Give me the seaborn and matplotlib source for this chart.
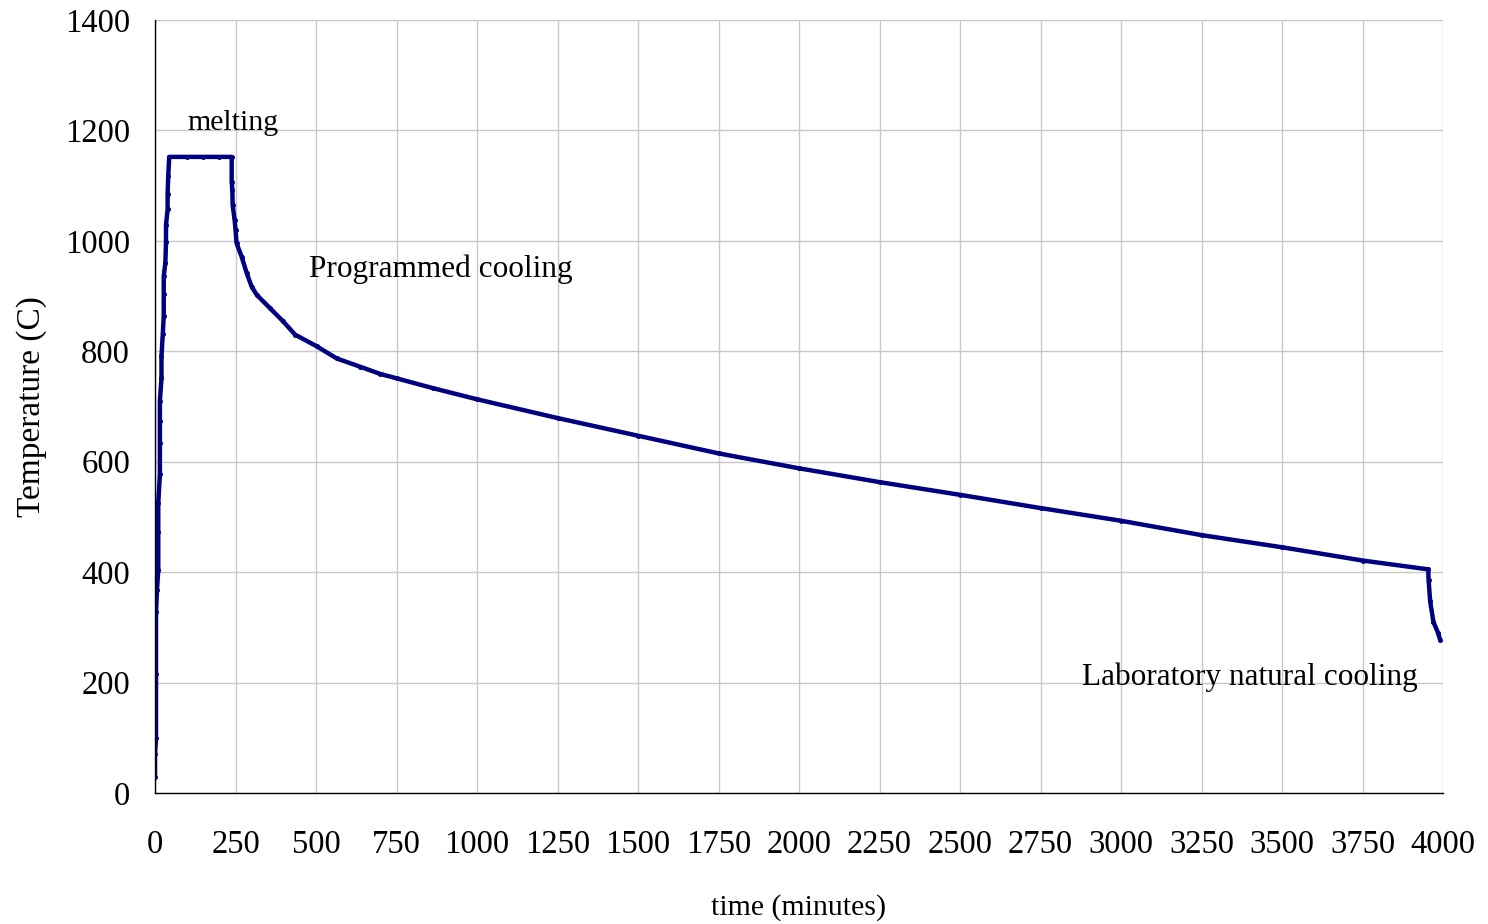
import matplotlib
matplotlib.use("Agg")
import matplotlib.pyplot as plt
import seaborn as sns
import pandas as pd

# ---- data ----
time_min = [0, 0, 3, 3, 3, 6, 10, 10, 10, 15, 15, 15, 15, 20, 20, 24, 27, 27, 27, 32, 34, 34, 39, 39, 41, 44,
            100, 150, 200, 238, 238, 240, 241, 247, 250, 253, 269, 285, 300, 316, 357, 398, 435, 502, 564,
            637, 699, 750, 864, 1000, 1250, 1500, 1750, 2000, 2250, 2500, 2750, 3000, 3250, 3500, 3750,
            3954, 3955, 3960, 3970, 3985, 3991]
temp_c = [29, 70, 100, 215, 327, 368, 404, 473, 525, 577, 634, 674, 710, 751, 791, 831, 864, 904, 936, 960, 997, 1029,
          1057, 1085, 1118, 1152,
          1152, 1152, 1152, 1152, 1107, 1092, 1065, 1038, 1020, 996, 971, 941, 917, 902, 878, 854, 830, 809, 787,
          772, 759, 751, 733, 713, 679, 647, 615, 588, 563, 540, 516, 493, 467, 445, 421,
          405, 386, 347, 310, 289, 277]

x_ticks = list(range(0, 4001, 250))
y_ticks = list(range(0, 1401, 200))

annotations = [("melting", 100, 1213), ("Programmed cooling", 477, 948),
               ("Laboratory natural cooling", 2879, 209)]

df = pd.DataFrame({"time": time_min, "temp": temp_c})

sns.set_style("white")
plt.rcParams["font.family"] = ["Liberation Serif", "DejaVu Serif"]

fig = plt.figure(figsize=(14.88, 9.24), dpi=100)
ax = fig.add_axes([0.1042, 0.1418, 0.8656, 0.8366])

sns.lineplot(data=df, x="time", y="temp", ax=ax, color="#000080", linewidth=3.2,
             marker="o", markersize=3.6, markeredgewidth=0, sort=False, estimator=None)

ax.set_xlim(0, 4000)
ax.set_ylim(0, 1400)
ax.set_xticks(x_ticks)
ax.set_yticks(y_ticks)
ax.set_xticklabels([str(v) for v in x_ticks])
ax.set_yticklabels([str(v) for v in y_ticks])
ax.grid(True, color="#c8c8c8", linewidth=1.0)
ax.set_axisbelow(True)

for s in ["top", "right"]:
    ax.spines[s].set_visible(False)
for s in ["left", "bottom"]:
    ax.spines[s].set_color("black")
    ax.spines[s].set_linewidth(1.0)

ax.tick_params(axis="both", direction="out", length=7, width=1, color="black",
               labelsize=23.5, labelcolor="black")
ax.tick_params(axis="x", pad=19)
ax.tick_params(axis="y", pad=11)

ax.set_xlabel("time (minutes)", fontsize=21.5, labelpad=25, color="black")
ax.set_ylabel("Temperature (C)", fontsize=24, labelpad=13, color="black")

fsizes = [21.5, 22.5, 22.5]
for (txt, tx, ty), fs in zip(annotations, fsizes):
    ax.text(tx, ty, txt, fontsize=fs, ha="left", va="center", color="black")

fig.savefig("out.png", dpi=100)
